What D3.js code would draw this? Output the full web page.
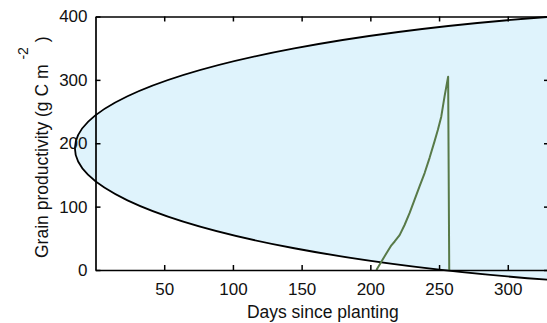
<!DOCTYPE html>
<html>
<head>
<meta charset="utf-8">
<script src="https://cdn.jsdelivr.net/npm/d3@7"></script>
<style>
  body { margin: 0; background: #fff; }
  svg { display: block; }
  text { font-family: "Liberation Sans", Arial, Helvetica, sans-serif; fill: #111; }
</style>
</head>
<body>
<svg id="chart" width="547" height="323"></svg>
<script>
// Grain productivity over the season (days since planting, g C m^-2)
const days  = [204.4, 208.0, 211.6, 215.3, 217.7, 221.3, 224.9, 228.6, 232.2, 235.8,
               239.5, 243.1, 246.7, 249.1, 251.6, 254.0, 256.6, 257.4];
const grain = [0, 13, 26, 39, 45, 55, 71, 90, 111, 132,
               153, 177, 203, 221, 242, 274, 305, 0];

const xTicks = [50, 100, 150, 200, 250, 300];
const yTicks = [0, 100, 200, 300, 400];
const xDomain = [0, 330];
const yDomain = [0, 400];

// Highlighted region (ellipse in data units: centre and radii)
const regionCenter = [530, 192];
const regionRadii  = [545, 223];

const xLabel = "Days since planting";

const svg = d3.select("#chart");
const plot = { left: 95.5, right: 549, top: 16.5, bottom: 270 };

const x = d3.scaleLinear().domain(xDomain).range([plot.left, plot.right]);
const y = d3.scaleLinear().domain(yDomain).range([plot.bottom, plot.top]);

// Highlight ellipse, behind everything else
svg.append("ellipse")
  .attr("cx", x(regionCenter[0]))
  .attr("cy", y(regionCenter[1]))
  .attr("rx", x(regionRadii[0]) - x(0))
  .attr("ry", y(0) - y(regionRadii[1]))
  .attr("fill", "#dff3fc")
  .attr("stroke", "#000")
  .attr("stroke-width", 1.8);

// Series
const pts = days.map((d, i) => [d, grain[i]]);
svg.append("path")
  .datum(pts)
  .attr("fill", "none")
  .attr("stroke", "#587a48")
  .attr("stroke-width", 2)
  .attr("stroke-linejoin", "round")
  .attr("d", d3.line().x(d => x(d[0])).y(d => y(d[1])));

// Axes: box with inward ticks on all four sides
const tickLen = 5;
function styleAxis(g) {
  g.select(".domain").attr("stroke", "#000").attr("stroke-width", 1.7);
  g.selectAll(".tick line").attr("stroke", "#000").attr("stroke-width", 1.5);
  g.selectAll(".tick text")
    .attr("font-size", 17)
    .attr("fill", "#111")
    .attr("font-family", "Liberation Sans, Arial, sans-serif");
}

svg.append("g")
  .attr("transform", `translate(0,${plot.bottom})`)
  .call(d3.axisBottom(x).tickValues(xTicks).tickSizeInner(-tickLen).tickSizeOuter(0).tickPadding(13))
  .call(styleAxis);

svg.append("g")
  .attr("transform", `translate(0,${plot.top})`)
  .call(d3.axisTop(x).tickValues(xTicks).tickSizeInner(-tickLen).tickSizeOuter(0).tickFormat(""))
  .call(styleAxis);

svg.append("g")
  .attr("transform", `translate(${plot.left},0)`)
  .call(d3.axisLeft(y).tickValues(yTicks).tickSizeInner(-tickLen).tickSizeOuter(0).tickPadding(8))
  .call(styleAxis);

svg.append("g")
  .attr("transform", `translate(${plot.right},0)`)
  .call(d3.axisRight(y).tickValues(yTicks).tickSizeInner(-tickLen).tickSizeOuter(0).tickFormat(""))
  .call(styleAxis);

// Axis titles
svg.append("text")
  .attr("x", (plot.left + plot.right) / 2 + 0.5)
  .attr("y", 318)
  .attr("text-anchor", "middle")
  .attr("font-size", 17.5)
  .text(xLabel);

const yTitle = svg.append("text")
  .attr("transform", "translate(48,258) rotate(-90)")
  .attr("text-anchor", "start")
  .attr("font-size", 17.5);
yTitle.append("tspan").text("Grain productivity (g C m ");
yTitle.append("tspan").attr("dy", -20.5).attr("font-size", 14).text("-2");
yTitle.append("tspan").attr("dy", 20.5).text(" )");
</script>
</body>
</html>
